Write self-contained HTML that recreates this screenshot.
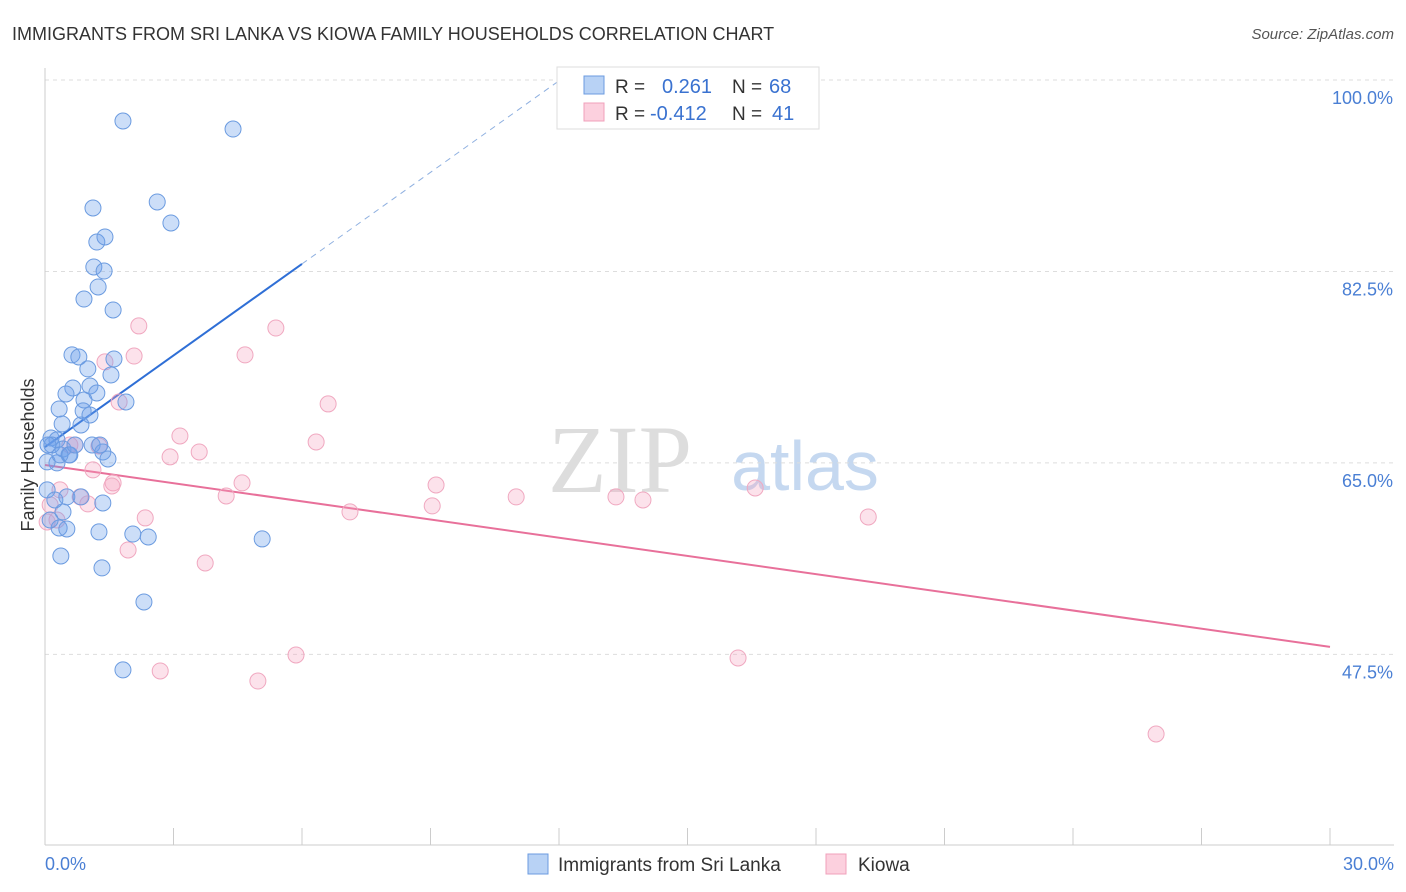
<!DOCTYPE html>
<html><head><meta charset="utf-8"><style>
body{margin:0;background:#fff;font-family:"Liberation Sans",sans-serif;}
#wrap{position:relative;width:1406px;height:892px;overflow:hidden;}
</style></head><body>
<div id="wrap">
<svg id="chart" width="1406" height="892" xmlns="http://www.w3.org/2000/svg">
<text x="12" y="40" font-size="18" fill="#333">IMMIGRANTS FROM SRI LANKA VS KIOWA FAMILY HOUSEHOLDS CORRELATION CHART</text>
<text x="1394" y="39" font-size="15" fill="#555" font-style="italic" text-anchor="end">Source: ZipAtlas.com</text>
<text x="620" y="492" font-size="96" fill="#ddd" font-family="Liberation Serif,serif" text-anchor="middle">ZIP</text>
<text x="805" y="490" font-size="70" fill="#c5d8f0" text-anchor="middle">atlas</text>
<g id="grid"></g><g id="axes"></g><g id="trend"></g><g id="pts"></g>
<text transform="translate(34,455) rotate(-90)" font-size="18" fill="#333" text-anchor="middle">Family Households</text>
<text x="45" y="870" font-size="18" fill="#4a7fd4">0.0%</text>
<text x="1394" y="870" font-size="18" fill="#4a7fd4" text-anchor="end">30.0%</text>
<g>
<rect x="557" y="67" width="262" height="62" fill="#fff" stroke="#ddd"/>
<rect x="584" y="76" width="20" height="18" fill="#b8d2f5" stroke="#6b9be0"/>
<text x="615" y="93" font-size="19" fill="#333">R = </text><text x="662" y="93" font-size="20" fill="#3a72d0">0.261</text>
<text x="732" y="93" font-size="19" fill="#333">N = </text><text x="769" y="93" font-size="20" fill="#3a72d0">68</text>
<rect x="584" y="103" width="20" height="18" fill="#fcd0de" stroke="#f0a0bb"/>
<text x="615" y="120" font-size="19" fill="#333">R = </text><text x="650" y="120" font-size="20" fill="#3a72d0">-0.412</text>
<text x="732" y="120" font-size="19" fill="#333">N = </text><text x="772" y="120" font-size="20" fill="#3a72d0">41</text>
</g>
<g>
<rect x="528" y="854" width="20" height="20" fill="#b8d2f5" stroke="#6b9be0"/>
<text x="558" y="871" font-size="19" fill="#333">Immigrants from Sri Lanka</text>
<rect x="826" y="854" width="20" height="20" fill="#fcd0de" stroke="#f0a0bb"/>
<text x="858" y="871" font-size="19" fill="#333">Kiowa</text>
</g>
</svg>
</div>
<script>
const yTicks=[100,82.5,65,47.5];
const yTickLabels=["100.0%","82.5%","65.0%","47.5%"];
const xTicks=[0,3,6,9,12,15,18,21,24,27,30];
const blueX=[1.82,4.39,2.62,2.94,1.12,1.21,1.40,1.14,1.38,1.24,0.91,1.59,0.63,0.79,1.61,1.00,1.54,0.65,1.05,0.49,1.21,1.89,0.91,0.33,0.89,1.05,0.84,0.40,0.14,0.28,1.10,0.42,1.35,0.56,1.47,0.28,0.05,0.16,0.05,0.51,0.84,1.35,0.42,0.33,0.51,1.26,2.05,2.41,5.07,0.37,1.33,2.31,1.82,0.12,0.23,0.35,0.58,0.07,0.70,1.28];
const blueY=[96.25,95.52,88.85,86.93,88.30,85.19,85.65,82.91,82.54,81.08,79.98,78.98,74.87,74.68,74.50,73.59,73.04,71.85,72.03,71.30,71.39,70.57,70.75,69.93,69.75,69.38,68.47,68.56,67.28,67.10,66.64,66.27,66.00,65.73,65.36,65.00,65.09,66.64,62.53,61.89,61.89,61.34,60.52,59.05,58.96,58.69,58.50,58.23,58.05,56.49,55.40,52.29,46.08,59.78,61.61,65.73,65.73,66.64,66.64,66.64];
const pinkX=[2.19,5.39,4.67,2.08,1.40,1.73,6.61,3.15,6.33,1.26,3.60,2.92,1.12,1.59,1.56,4.60,9.13,4.23,11.00,13.33,13.96,16.58,0.82,1.00,7.12,9.04,19.22,2.34,1.94,3.74,5.86,2.69,4.97,16.18,25.94,0.35,0.12,0.58,0.70,0.28,0.05];
const pinkY=[77.52,77.33,74.87,74.77,74.23,70.57,70.39,67.46,66.91,66.55,66.00,65.55,64.36,63.17,62.89,63.17,62.98,61.98,61.89,61.89,61.61,62.71,61.89,61.25,60.52,61.07,60.06,59.97,57.04,55.85,47.44,45.98,45.06,47.17,40.22,62.53,61.16,66.64,66.64,59.78,59.60];
const blueTrend=[66.45,2.79];
const pinkTrend=[64.81,-0.5543];
const NS="http://www.w3.org/2000/svg";
const sx=v=>45+v/30*1285;
const sy=v=>80+(100-v)*10.94;
function mk(tag,attrs,parent){const e=document.createElementNS(NS,tag);for(const k in attrs)e.setAttribute(k,attrs[k]);document.getElementById(parent).appendChild(e);return e;}
yTicks.forEach((t,i)=>{
 const g=mk('line',{x1:45,x2:1394,y1:sy(t),y2:sy(t),stroke:'#ddd','stroke-dasharray':'4,4'},'grid');
 
 
 const l=mk('text',{x:1393,y:sy(t)+24,'font-size':18,fill:'#4a7fd4','text-anchor':'end'},'grid');
 l.textContent=yTickLabels[i];
 
 
});
const ax=mk('line',{x1:45,x2:45,y1:68,y2:845,stroke:'#ccc'},'axes');


const bx=mk('line',{x1:45,x2:1394,y1:845,y2:845,stroke:'#ccc'},'axes');


xTicks.forEach(t=>{
 const k=mk('line',{x1:sx(t),x2:sx(t),y1:828,y2:845,stroke:'#ccc'},'axes');
 
 
});
const b1=mk('line',{x1:sx(0),y1:sy(blueTrend[0]),x2:sx(6),y2:sy(blueTrend[0]+blueTrend[1]*6),stroke:'#2f6fd6','stroke-width':2},'trend');


const b2=mk('line',{x1:sx(6),y1:sy(blueTrend[0]+blueTrend[1]*6),x2:sx(12),y2:sy(blueTrend[0]+blueTrend[1]*12),stroke:'#8fb0e0','stroke-width':1,'stroke-dasharray':'6,5'},'trend');


const p1=mk('line',{x1:sx(0),y1:sy(pinkTrend[0]),x2:sx(30),y2:sy(pinkTrend[0]+pinkTrend[1]*30),stroke:'#e8709a','stroke-width':2},'trend');


pinkX.forEach((x,i)=>{
 const c=mk('circle',{cx:sx(x),cy:sy(pinkY[i]),r:8,fill:'rgba(245,160,190,0.3)',stroke:'#f0a8c0','stroke-width':1},'pts');
 
 
});
blueX.forEach((x,i)=>{
 const c=mk('circle',{cx:sx(x),cy:sy(blueY[i]),r:8,fill:'rgba(110,160,235,0.35)',stroke:'#6b9be0','stroke-width':1},'pts');
 
 
});
</script>
</body></html>
